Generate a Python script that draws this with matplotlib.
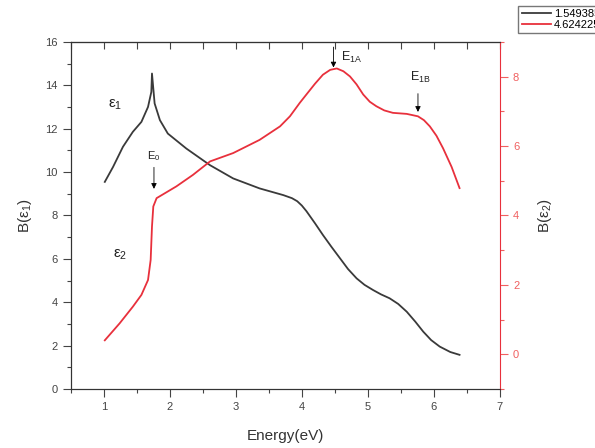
import matplotlib.pyplot as plt
from matplotlib.ticker import MultipleLocator, NullFormatter

plt.rcParams['font.family'] = ['Liberation Sans', 'DejaVu Sans']
plt.rcParams['mathtext.default'] = 'regular'

# epsilon_1 (left axis)
e1_x = [1.015, 1.14, 1.29, 1.44, 1.57, 1.67, 1.72, 1.73, 1.77, 1.85, 1.97, 2.25,
        2.61, 2.96, 3.36, 3.72, 3.85, 3.93, 4.0, 4.07, 4.2, 4.32, 4.45, 4.58, 4.7,
        4.83, 4.95, 5.08, 5.2, 5.33, 5.46, 5.59, 5.72, 5.84, 5.96, 6.09, 6.25, 6.39]
e1_y = [9.55, 10.24, 11.17, 11.86, 12.32, 13.01, 13.7, 14.55, 13.17, 12.4, 11.78, 11.09,
        10.32, 9.71, 9.25, 8.94, 8.8, 8.66, 8.46, 8.2, 7.64, 7.10, 6.55, 6.02, 5.53,
        5.10, 4.8, 4.56, 4.36, 4.18, 3.92, 3.56, 3.1, 2.64, 2.25, 1.95, 1.7, 1.57]

# epsilon_2 (right axis)
e2_x = [1.015, 1.24, 1.44, 1.57, 1.67, 1.71, 1.73, 1.75, 1.80, 2.10, 2.35, 2.61,
        2.96, 3.36, 3.67, 3.82, 3.97, 4.07, 4.2, 4.32, 4.43, 4.53, 4.63, 4.73,
        4.83, 4.93, 5.03, 5.13, 5.25, 5.38, 5.59, 5.76, 5.85, 5.94, 6.04, 6.14,
        6.27, 6.39]
e2_y = [0.40, 0.89, 1.37, 1.71, 2.14, 2.72, 3.68, 4.26, 4.50, 4.84, 5.17, 5.56,
        5.80, 6.18, 6.57, 6.86, 7.25, 7.49, 7.8, 8.06, 8.2, 8.24, 8.16, 8.01,
        7.78, 7.49, 7.28, 7.15, 7.03, 6.96, 6.93, 6.86, 6.75, 6.57, 6.3, 5.94,
        5.4, 4.79]

legend_labels = ['1.549385', '4.624225']

fig = plt.figure(figsize=(5.95, 4.48), dpi=100)
ax = fig.add_axes([0.119, 0.132, 0.721, 0.774])
ax2 = ax.twinx()

black = '#3a3a3a'
red = '#e8303c'
l1, = ax.plot(e1_x, e1_y, color=black, lw=1.3, solid_joinstyle='round')
l2, = ax2.plot(e2_x, e2_y, color=red, lw=1.3, solid_joinstyle='round')

ax.set_xlim(0.5, 7)
ax.set_ylim(0, 16)
ax2.set_ylim(-1, 9)

ax.xaxis.set_major_locator(MultipleLocator(1))
ax.xaxis.set_minor_locator(MultipleLocator(0.5))
ax.yaxis.set_major_locator(MultipleLocator(2))
ax.yaxis.set_minor_locator(MultipleLocator(1))
ax2.yaxis.set_major_locator(MultipleLocator(2))
ax2.yaxis.set_minor_locator(MultipleLocator(1))

ax.tick_params(which='major', direction='out', length=6, width=0.8, labelsize=8,
               colors='#444444')
ax.tick_params(which='minor', direction='out', length=3, width=0.8, colors='#444444')
ax2.tick_params(which='major', direction='out', length=6, width=0.8, labelsize=8,
                colors='#f06060')
ax2.tick_params(which='minor', direction='out', length=3, width=0.8, colors='#f06060')

# top axis: inward ticks every 0.5, no labels
top = ax.secondary_xaxis('top')
top.xaxis.set_major_locator(MultipleLocator(0.5))
top.xaxis.set_major_formatter(NullFormatter())
top.tick_params(direction='in', length=5, width=0.8, colors='#444444')
top.spines['top'].set_color('#333333')

for s in ['left', 'bottom', 'top']:
    ax.spines[s].set_color('#333333')
    ax2.spines[s].set_color('#333333')
ax2.spines['right'].set_color(red)
ax.spines['right'].set_visible(False)

ax.set_xlabel('Energy(eV)', fontsize=11, color='#333333', labelpad=12)
ax.set_ylabel('B(ε$_1$)', fontsize=11, color='#333333', labelpad=8)
ax2.set_ylabel('B(ε$_2$)', fontsize=11, color='#333333', labelpad=12)

# annotations
ax.text(1.17, 13.1, 'ε$_1$', fontsize=11, color='#222222', ha='center', va='center')
ax.text(1.24, 6.2, 'ε$_2$', fontsize=11, color='#222222', ha='center', va='center')
arrow = dict(arrowstyle='-|>', color='k', lw=0.6, mutation_scale=8)
ax.annotate('', xy=(1.76, 9.1), xytext=(1.76, 10.35), arrowprops=arrow)
ax.text(1.76, 10.75, 'E$_0$', fontsize=8, ha='center', va='center', color='#222222')
ax.annotate('', xy=(4.48, 14.7), xytext=(4.48, 15.9), arrowprops=arrow)
ax.text(4.6, 15.3, 'E$_{1A}$', fontsize=9, ha='left', va='center', color='#222222')
ax.annotate('', xy=(5.76, 12.65), xytext=(5.76, 13.75), arrowprops=arrow)
ax.text(5.79, 14.35, 'E$_{1B}$', fontsize=9, ha='center', va='center', color='#222222')

fig.legend([l1, l2], legend_labels, loc='upper left', bbox_to_anchor=(0.862, 1.0),
           fontsize=8, frameon=True, fancybox=False, edgecolor='#555555',
           handlelength=2.6, borderpad=0.3, labelspacing=0.1, handletextpad=0.3)

fig.savefig('out.png', dpi=100)
